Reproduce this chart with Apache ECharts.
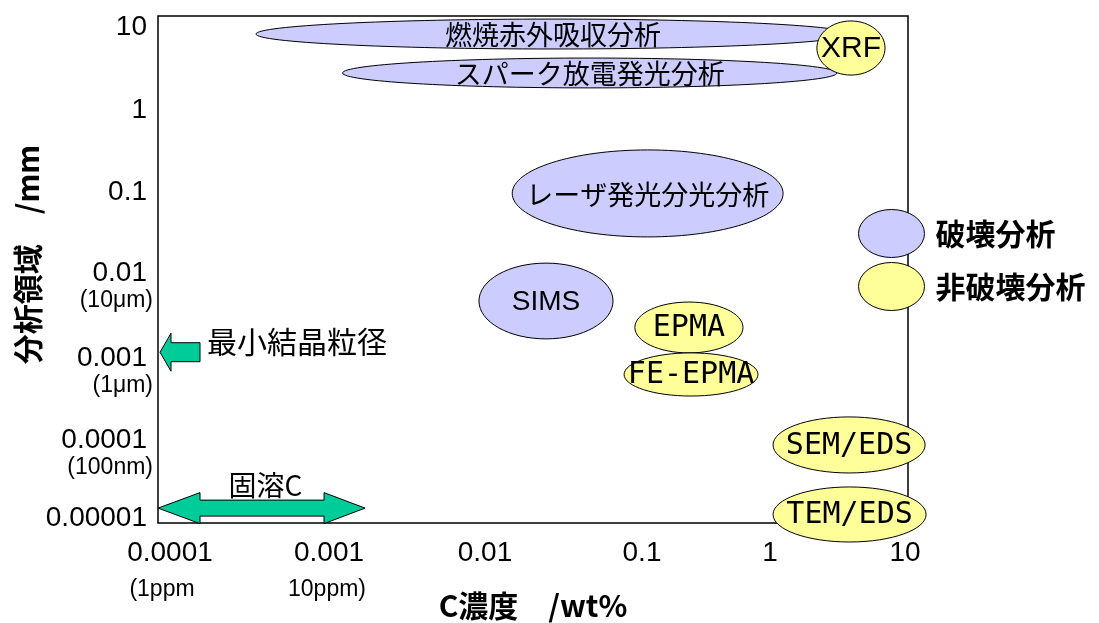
<!DOCTYPE html>
<html><head><meta charset="utf-8">
<script src="https://cdn.jsdelivr.net/npm/echarts@6/dist/echarts.min.js"></script>
<style>html,body{margin:0;padding:0;background:#fff}#c{width:1099px;height:623px}</style>
</head><body><div id="c"></div>
<script>
// ---------- data ----------
const xTickLabels = ['0.0001', '0.001', '0.01', '0.1', '1', '10'];
const xTickSubLabels = ['(1ppm', '10ppm)', '', '', '', ''];
const yTickLabels = ['0.00001', '0.0001', '0.001', '0.01', '0.1', '1', '10'];
const yTickSubLabels = ['', '(100nm)', '(1\u03bcm)', '(10\u03bcm)', '', '', ''];

// destructive methods: C concentration range (wt%) and analysed-area range (mm)
const destructiveNames = ['燃焼赤外吸収分析', 'スパーク放電発光分析', 'レーザ発光分光分析', 'SIMS'];
const destructiveConcMin = [0.00045, 0.0017, 0.023, 0.0138];
const destructiveConcMax = [4.1, 3.36, 1.47, 0.108];
const destructiveSizeMin = [4.07, 1.41, 0.0243, 0.00151];
const destructiveSizeMax = [9.2, 3.18, 0.26, 0.0119];

// non-destructive methods
const nondestructiveNames = ['XRF', 'EPMA', 'FE-EPMA', 'SEM/EDS', 'TEM/EDS'];
const nondestructiveConcMin = [2.47, 0.151, 0.128, 1.26, 1.26];
const nondestructiveConcMax = [7.03, 0.794, 1.0, 13.0, 13.2];
const nondestructiveSizeMin = [2.0, 0.00103, 0.000318, 0.0000391, 0.00000596];
const nondestructiveSizeMax = [8.73, 0.00412, 0.00103, 0.000180, 0.0000267];

const legendNames = ['破壊分析', '非破壊分析'];

const minGrainSize = 0.00105;
const minGrainLabel = '最小結晶粒径';
const solidCConcRange = [0.0001, 0.0024];
const solidCSize = 0.000015;
const solidCLabel = '固溶C';

const xAxisName = 'C濃度　/wt%';
const yAxisName = '分析領域　/mm';

// ---------- styles ----------
const JP = '"Noto Sans CJK JP", "Noto Sans", sans-serif';
const SANS = '"Liberation Sans", Arial, sans-serif';
const MONO = '"DejaVu Sans Mono", monospace';
const BLUE = '#CCCCFF', YELLOW = '#FFFF99', GREEN = '#00CC99';
const labelFonts = {
  '燃焼赤外吸収分析': [JP, 27], 'スパーク放電発光分析': [JP, 27], 'レーザ発光分光分析': [JP, 27],
  'SIMS': [SANS, 28], 'XRF': [SANS, 30], 'EPMA': [MONO, 30], 'FE-EPMA': [MONO, 30],
  'SEM/EDS': [MONO, 30], 'TEM/EDS': [MONO, 30]
};
const xMainShift = [12, 21, 27, 34, 12, -3];
const xSubShift = [4, 19, 0, 0, 0, 0];
const yMainShift = [-5, 1.5, 4, 3.5, 7, 10, 11];

function rows(a, b, c, d) { return a.map((v, i) => [v, b[i], c[i], d[i]]); }

function ellipseRenderer(names, fill) {
  return function (params, api) {
    const p1 = api.coord([api.value(0), api.value(3)]);
    const p2 = api.coord([api.value(1), api.value(2)]);
    const cx = (p1[0] + p2[0]) / 2, cy = (p1[1] + p2[1]) / 2;
    const rx = Math.abs(p2[0] - p1[0]) / 2, ry = Math.abs(p2[1] - p1[1]) / 2;
    const name = names[params.dataIndex];
    const f = labelFonts[name];
    return {
      type: 'group', children: [
        { type: 'ellipse', shape: { cx: cx, cy: cy, rx: rx, ry: ry }, style: { fill: fill, stroke: '#000', lineWidth: 1 } },
        { type: 'text', x: cx, y: cy + 1, style: { text: name, fill: '#000', fontFamily: f[0], fontSize: f[1], align: 'center', verticalAlign: 'middle' } }
      ]
    };
  };
}

const richX = {};
function padFor(dx) { return dx >= 0 ? [0, 0, 0, 2 * dx] : [0, -2 * dx, 0, 0]; }
xTickLabels.forEach((t, i) => {
  richX['m' + i] = { fontSize: 28, fontFamily: SANS, color: '#000', lineHeight: 32, padding: padFor(xMainShift[i]) };
  richX['s' + i] = { fontSize: 23, fontFamily: SANS, color: '#000', lineHeight: 42, padding: padFor(xSubShift[i]) };
});
const richY = { m: { fontSize: 28, fontFamily: SANS, color: '#000', lineHeight: 30, padding: [0, 6, 0, 0] },
                s: { fontSize: 23, fontFamily: SANS, color: '#000', lineHeight: 26 } };
function blank(h) {
  const k = 'h' + Math.round(h);
  if (!richY[k]) richY[k] = { fontSize: 1, lineHeight: Math.round(h) };
  return '{' + k + '| }';
}
const yLabelStrings = yTickLabels.map((t, i) => {
  const s = yMainShift[i];
  const sub = yTickSubLabels[i];
  if (sub) {
    const top = 26 + 2 * s;
    return blank(top) + '\n{m|' + t + '}\n{s|' + sub + '}';
  }
  if (s >= 0) return (s > 0 ? blank(2 * s) + '\n' : '') + '{m|' + t + '}';
  return '{m|' + t + '}\n' + blank(-2 * s);
});

const ellipseIcon = 'path://M0,50A50,50,0,1,1,100,50A50,50,0,1,1,0,50Z';

const chart = echarts.init(document.getElementById('c'));
chart.setOption({
  animation: false,
  backgroundColor: '#fff',
  grid: { left: 158, right: 191, top: 16, bottom: 100, show: true, borderColor: '#000', borderWidth: 1.5,
          backgroundColor: 'transparent', containLabel: false, outerBoundsMode: 'none' },
  legend: {
    orient: 'vertical', left: 858, top: 209, padding: 0, itemWidth: 66, itemHeight: 48, itemGap: 4,
    icon: ellipseIcon, symbolKeepAspect: false, selectedMode: false, data: legendNames,
    itemStyle: { borderColor: '#000', borderWidth: 1 },
    textStyle: { fontSize: 30, fontWeight: 'bold', fontFamily: JP, color: '#000', padding: [0, 0, 0, 6] }
  },
  xAxis: {
    type: 'log', logBase: 10, min: 0.0001, max: 10, splitNumber: 5,
    axisLine: { show: false }, axisTick: { show: false }, splitLine: { show: false },
    axisLabel: {
      margin: 14, interval: 0, showMinLabel: true, showMaxLabel: true,
      formatter: function (v) {
        const i = Math.round(Math.log10(v)) + 4;
        let s = '{m' + i + '|' + xTickLabels[i] + '}';
        if (xTickSubLabels[i]) s += '\n{s' + i + '|' + xTickSubLabels[i] + '}';
        return s;
      },
      rich: richX
    },
    name: xAxisName, nameLocation: 'middle', nameGap: 68, nameMoveOverlap: false,
    nameTextStyle: { fontSize: 30, fontWeight: 'bold', fontFamily: JP, color: '#000' }
  },
  yAxis: {
    type: 'log', logBase: 10, min: 0.00001, max: 10, splitNumber: 6,
    axisLine: { show: false }, axisTick: { show: false }, splitLine: { show: false },
    axisLabel: {
      margin: 5, interval: 0, showMinLabel: true, showMaxLabel: true,
      formatter: function (v) { return yLabelStrings[Math.round(Math.log10(v)) + 5]; },
      rich: richY
    },
    name: yAxisName, nameLocation: 'middle', nameGap: 115, nameMoveOverlap: false,
    nameTextStyle: { fontSize: 30, fontWeight: 'bold', fontFamily: JP, color: '#000', padding: [0, 0, 0, 30] }
  },
  series: [
    {
      name: legendNames[0], type: 'custom', itemStyle: { color: BLUE },
      encode: { x: [0, 1], y: [2, 3] },
      data: rows(destructiveConcMin, destructiveConcMax, destructiveSizeMin, destructiveSizeMax),
      renderItem: ellipseRenderer(destructiveNames, BLUE), z: 3
    },
    {
      name: legendNames[1], type: 'custom', itemStyle: { color: YELLOW },
      encode: { x: [0, 1], y: [2, 3] },
      data: rows(nondestructiveConcMin, nondestructiveConcMax, nondestructiveSizeMin, nondestructiveSizeMax),
      renderItem: ellipseRenderer(nondestructiveNames, YELLOW), z: 4
    },
    {
      name: 'grain', type: 'custom', encode: { x: 0, y: 1 },
      data: [[0.0001, minGrainSize]], z: 5,
      renderItem: function (params, api) {
        const p = api.coord([api.value(0), api.value(1)]);
        const tx = p[0] + 2, ty = p[1];
        return {
          type: 'group', children: [
            { type: 'polygon', shape: { points: [[tx, ty], [tx + 11, ty - 19], [tx + 11, ty - 9.5], [tx + 40, ty - 9.5], [tx + 40, ty + 9.5], [tx + 11, ty + 9.5], [tx + 11, ty + 19]] },
              style: { fill: GREEN, stroke: '#000', lineWidth: 1 } },
            { type: 'text', x: tx + 47, y: ty - 11, style: { text: minGrainLabel, fill: '#000', fontFamily: JP, fontSize: 30, align: 'left', verticalAlign: 'middle' } }
          ]
        };
      }
    },
    {
      name: 'solidC', type: 'custom', encode: { x: [0, 1], y: 2 },
      data: [[solidCConcRange[0], solidCConcRange[1], solidCSize]], z: 5,
      renderItem: function (params, api) {
        const L = api.coord([api.value(0), api.value(2)]);
        const R = api.coord([api.value(1), api.value(2)]);
        const y = L[1], l = L[0], r = R[0];
        return {
          type: 'group', children: [
            { type: 'polygon', shape: { points: [[l, y], [l + 42, y - 15.5], [l + 42, y - 8], [r - 41, y - 8], [r - 41, y - 15.5], [r, y], [r - 41, y + 15.5], [r - 41, y + 8], [l + 42, y + 8], [l + 42, y + 15.5]] },
              style: { fill: GREEN, stroke: '#000', lineWidth: 1 } },
            { type: 'text', x: (l + r) / 2 + 4, y: y - 23, style: { text: solidCLabel, fill: '#000', fontFamily: JP, fontSize: 28, align: 'center', verticalAlign: 'middle' } }
          ]
        };
      }
    }
  ]
});
</script></body></html>
